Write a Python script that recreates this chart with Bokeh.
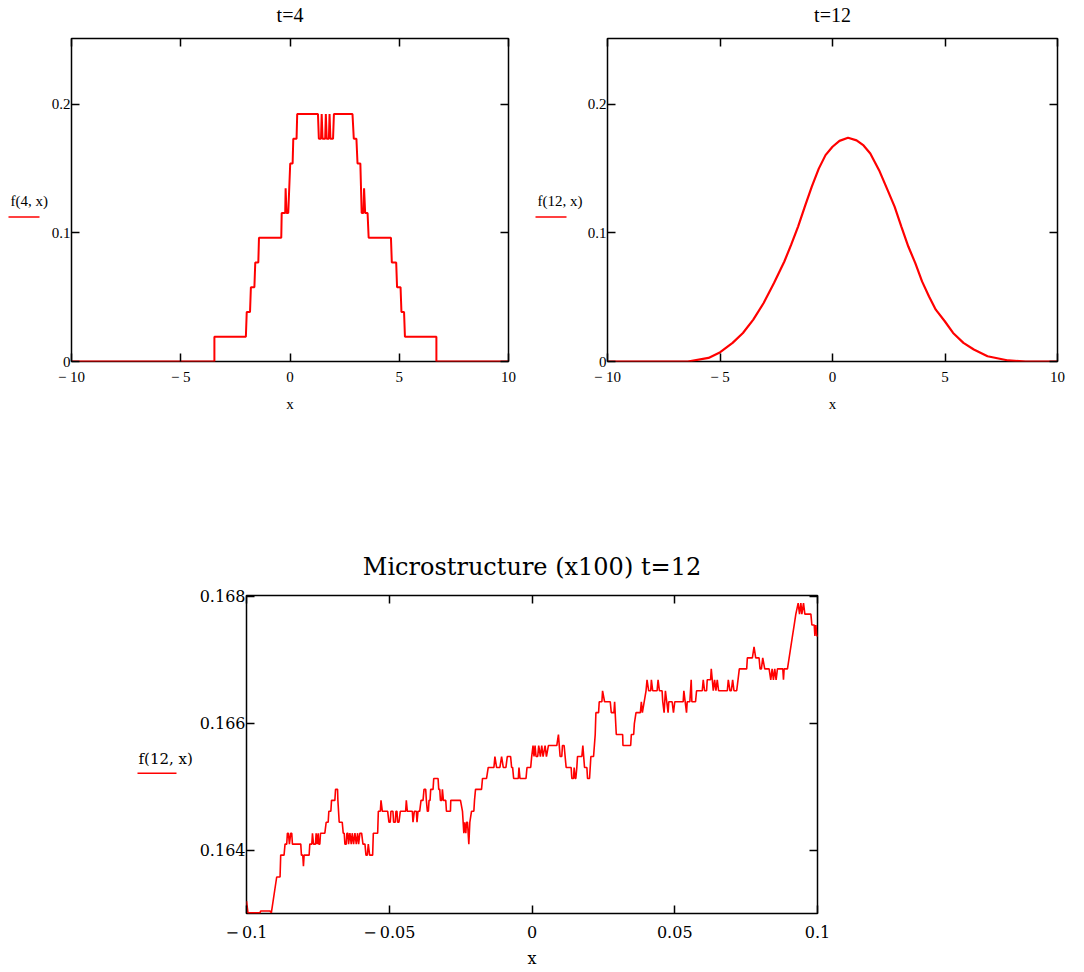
from bokeh.plotting import figure
from bokeh.models import Range1d, FixedTicker, LinearAxis, Label, Arrow
from bokeh.layouts import column, row
from bokeh.embed import file_html
from bokeh.resources import INLINE

SERIF = "Liberation Serif"
WIDE_SERIF = "DejaVu Serif"
RED = "#ff0000"

# ---------------- data: f(4, x) ----------------
x4 = [-10, -3.46, -3.46, -2.02, -1.98, -1.83, -1.79, -1.63, -1.59, -1.45, -1.42, -0.40, -0.38, -0.22,
      -0.20, -0.16, -0.08, 0.01, 0.12, 0.15, 0.30, 0.33, 1.28, 1.32, 1.42, 1.45, 1.49, 1.61, 1.64, 1.68,
      1.78, 1.81, 1.85, 1.97, 2.01, 2.86, 2.92, 3.04, 3.09, 3.22, 3.28, 3.36, 3.39, 3.44, 3.55, 3.60,
      4.62, 4.66, 4.86, 4.90, 5.06, 5.10, 5.22, 5.26, 6.70, 6.70, 10]
y4 = [0, 0, .01925, .01925, .0385, .0385, .05775, .05775, .077, .077, .09625, .09625, .1155, .1155,
      .13475, .1155, .1155, .154, .154, .17325, .17325, .1925, .1925, .17325, .17325, .1925, .17325,
      .17325, .1925, .17325, .17325, .1925, .17325, .17325, .1925, .1925, .17325, .17325, .154, .154,
      .1155, .1155, .13475, .1155, .1155, .09625, .09625, .077, .077, .05775, .05775, .0385, .0385,
      .01925, .01925, 0, 0]

# ---------------- data: f(12, x) ----------------
x12 = [-10, -6.43, -5.51, -4.99, -4.44, -3.98, -3.52, -3.06, -2.60, -2.14, -1.84, -1.53, -1.23, -0.92,
       -0.61, -0.31, 0.0, 0.31, 0.69, 1.07, 1.38, 1.68, 2.07, 2.45, 2.76, 3.06, 3.37, 3.68, 3.98, 4.29,
       4.59, 4.99, 5.36, 5.82, 6.28, 6.89, 7.81, 8.58, 10]
y12 = [0, 0, .0028, .0072, .0145, .0222, .0326, .0455, .061, .0778, .0907, .1049, .1204, .136, .150,
       .1605, .167, .1716, .174, .172, .168, .1618, .1488, .1333, .1204, .1049, .0894, .0765, .0623,
       .0506, .0403, .0313, .0222, .0145, .0093, .0041, .0008, 0, 0]

# ---------------- data: microstructure f(12, x) near 0 ----------------
xm = [-0.10000, -0.09949, -0.09528, -0.09504, -0.09177, -0.09130, -0.08942, -0.08825, -0.08802, -0.08685,
      -0.08650, -0.08591, -0.08568, -0.08532, -0.08497, -0.08450, -0.08415, -0.08392, -0.08099, -0.08076,
      -0.08029, -0.08006, -0.07982, -0.07806, -0.07783, -0.07713, -0.07689, -0.07654, -0.07584, -0.07561,
      -0.07525, -0.07490, -0.07467, -0.07432, -0.07408, -0.07256, -0.07209, -0.07139, -0.07116, -0.07045,
      -0.07022, -0.06905, -0.06881, -0.06811, -0.06799, -0.06753, -0.06647, -0.06612, -0.06577, -0.06553,
      -0.06507, -0.06483, -0.06448, -0.06425, -0.06378, -0.06331, -0.06296, -0.06249, -0.06202, -0.06155,
      -0.06108, -0.06073, -0.06027, -0.05968, -0.05921, -0.05851, -0.05816, -0.05769, -0.05734, -0.05687,
      -0.05582, -0.05558, -0.05406, -0.05382, -0.05312, -0.05289, -0.05242, -0.05055,
      -0.05011, -0.04965, -0.04941, -0.04871, -0.04847, -0.04789, -0.04765, -0.04730, -0.04707, -0.04660,
      -0.04613, -0.04426, -0.04402, -0.04367, -0.04192, -0.04168, -0.04121, -0.04051, -0.04028, -0.03993,
      -0.03934, -0.03887, -0.03817, -0.03782, -0.03723, -0.03700, -0.03665, -0.03630, -0.03606, -0.03571,
      -0.03548, -0.03466, -0.03442, -0.03290, -0.03267, -0.03231, -0.03208, -0.03161, -0.03138, -0.03103,
      -0.03021, -0.02997, -0.02857, -0.02845, -0.02505, -0.02435, -0.02388, -0.02365, -0.02318, -0.02295,
      -0.02259, -0.02213, -0.02177, -0.02119, -0.02037, -0.02014, -0.01978, -0.01768, -0.01733, -0.01592,
      -0.01533, -0.01334, -0.01299, -0.01241, -0.01124, -0.01065, -0.01006, -0.00913, -0.00866, -0.00749,
      -0.00714, -0.00679, -0.00643, -0.00480, -0.00456, -0.00421, -0.00210, -0.00175, -0.00046, -0.00011,
      0.00036, 0.00071,
      0.00107, 0.00142, 0.00200, 0.00235, 0.00294, 0.00341, 0.00388, 0.00458, 0.00505, 0.00575,
      0.00868, 0.00926, 0.00985, 0.01043, 0.01067, 0.01125, 0.01196, 0.01371, 0.01395, 0.01453,
      0.01477, 0.01512, 0.01535, 0.01570, 0.01594, 0.01746, 0.01781, 0.01840, 0.01922, 0.01945,
      0.02015, 0.02039, 0.02062, 0.02156, 0.02214, 0.02238, 0.02332, 0.02355, 0.02448, 0.02472,
      0.02542, 0.02741, 0.02777, 0.02870, 0.02894, 0.02952, 0.03175, 0.03186, 0.03456, 0.03479,
      0.03561, 0.03585, 0.03643, 0.03795, 0.03830, 0.03866, 0.03994, 0.04029, 0.04088, 0.04158,
      0.04182, 0.04228, 0.04381, 0.04416, 0.04463, 0.04556, 0.04580, 0.04627, 0.04673, 0.04720,
      0.04767, 0.04791, 0.04908, 0.04955, 0.05001,
      0.05201, 0.05295, 0.05319, 0.05365, 0.05412, 0.05436, 0.05529, 0.05576, 0.05600, 0.05728,
      0.05764, 0.05963, 0.05998, 0.06045, 0.06115, 0.06138, 0.06255, 0.06279, 0.06314, 0.06349,
      0.06396, 0.06443, 0.06489, 0.06536, 0.06841, 0.06876, 0.06935, 0.06981, 0.07028, 0.07075,
      0.07169, 0.07216, 0.07262, 0.07520, 0.07543, 0.07719, 0.07777, 0.07836, 0.07953, 0.07988,
      0.08035, 0.08082, 0.08152, 0.08305, 0.08363, 0.08410, 0.08457, 0.08503, 0.08550, 0.08597,
      0.08785, 0.08808, 0.08831, 0.08948, 0.09124, 0.09183, 0.09241, 0.09323, 0.09370, 0.09417,
      0.09452, 0.09510, 0.09557, 0.09768, 0.09803, 0.09885, 0.09909, 0.09944, 0.09979, 0.10026]
ym = [0.163195, 0.16301, 0.16301, 0.16304, 0.16304, 0.16301, 0.163575, 0.163575, 0.16392, 0.16392,
      0.164093, 0.164093, 0.164265, 0.164265, 0.164093, 0.164265, 0.164265, 0.164093, 0.164093, 0.16392,
      0.16392, 0.163747, 0.16392, 0.16392, 0.164093, 0.164093, 0.164265, 0.164093, 0.164093, 0.164265,
      0.164093, 0.164265, 0.164093, 0.164093, 0.164265, 0.164265, 0.164438, 0.164438, 0.16461, 0.16461,
      0.164783, 0.164783, 0.164956, 0.164956, 0.164783, 0.164438, 0.164438, 0.164265, 0.164265, 0.164093,
      0.164093, 0.164265, 0.164265, 0.164093, 0.164265, 0.164093, 0.164265, 0.164093, 0.164265, 0.164093,
      0.164265, 0.164093, 0.164265, 0.164265, 0.164093, 0.164093, 0.16392, 0.16392, 0.164093, 0.16392,
      0.16392, 0.164265, 0.164265, 0.16461, 0.16461, 0.164783, 0.16461, 0.16461,
      0.164438, 0.164438, 0.16461, 0.16461, 0.164438, 0.164438, 0.16461, 0.16461, 0.164438, 0.164438,
      0.16461, 0.16461, 0.164783, 0.16461, 0.16461, 0.164438, 0.16461, 0.16461, 0.164438, 0.16461,
      0.16461, 0.164783, 0.164783, 0.164956, 0.164956, 0.164783, 0.16461, 0.16461, 0.164783, 0.164783,
      0.164956, 0.164956, 0.165128, 0.165128, 0.164956, 0.164956, 0.164783, 0.164783, 0.164956, 0.164783,
      0.164783, 0.16461, 0.16461, 0.164783, 0.164783, 0.16461, 0.164265, 0.164438, 0.164265, 0.164438,
      0.164438, 0.164093, 0.164438, 0.16461, 0.16461, 0.164783, 0.164956, 0.164956, 0.165128, 0.165128,
      0.165301, 0.165301, 0.165473, 0.165301, 0.165301, 0.165473, 0.165301, 0.165301, 0.165473, 0.165473,
      0.165301, 0.165301, 0.165128, 0.165128, 0.165301, 0.165128, 0.165128, 0.165301, 0.165301, 0.165473,
      0.165646, 0.165473,
      0.165646, 0.165473, 0.165473, 0.165646, 0.165473, 0.165646, 0.165473, 0.165646, 0.165473, 0.165646,
      0.165646, 0.165819, 0.165473, 0.165473, 0.165646, 0.165646, 0.165301, 0.165301, 0.165128, 0.165128,
      0.165301, 0.165128, 0.165128, 0.165301, 0.165473, 0.165473, 0.165646, 0.165301, 0.165301, 0.165128,
      0.165128, 0.165301, 0.165473, 0.165473, 0.165819, 0.166164, 0.166164, 0.166336, 0.166336, 0.166509,
      0.166336, 0.166336, 0.166164, 0.166164, 0.166336, 0.165819, 0.165819, 0.165646, 0.165646, 0.165819,
      0.165819, 0.165991, 0.166164, 0.166164, 0.166336, 0.166164, 0.166509, 0.166682, 0.166509, 0.166509,
      0.166682, 0.166509, 0.166509, 0.166682, 0.166509, 0.166509, 0.166336, 0.166164, 0.166509, 0.166336,
      0.166164, 0.166336, 0.166336, 0.166164, 0.166336,
      0.166336, 0.166336, 0.166509, 0.166336, 0.166164, 0.166336, 0.166336, 0.166682, 0.166336, 0.166336,
      0.166509, 0.166509, 0.166682, 0.166509, 0.166509, 0.166682, 0.166682, 0.166854, 0.166682, 0.166509,
      0.166682, 0.166509, 0.166682, 0.166509, 0.166509, 0.166682, 0.166509, 0.166509, 0.166682, 0.166509,
      0.166509, 0.166682, 0.166854, 0.166854, 0.167027, 0.167027, 0.167199, 0.167027, 0.167027, 0.166854,
      0.166854, 0.167027, 0.166854, 0.166854, 0.166682, 0.166854, 0.166682, 0.166854, 0.166682, 0.166854,
      0.166854, 0.166682, 0.166854, 0.166854, 0.167372, 0.167545, 0.167717, 0.16789, 0.167717, 0.16789,
      0.167717, 0.16789, 0.167717, 0.167717, 0.167545, 0.167545, 0.167372, 0.167545, 0.167372, 0.167372]

# ---------------- ticks ----------------
xt_top = [-10, -5, 0, 5, 10]
xt_top_labels = ["\u2212 10", "\u2212 5", "0", "5", "10"]
yt_top = [0, 0.1, 0.2]
yt_top_labels = ["0", "0.1", "0.2"]
xt_bot = [-0.1, -0.05, 0, 0.05, 0.1]
xt_bot_labels = ["\u2212\u20090.1", "\u2212\u20090.05", "0", "0.05", "0.1"]
yt_bot = [0.164, 0.166, 0.168]
yt_bot_labels = ["0.164", "0.166", "0.168"]

TOP_YR = (0, 0.2512)
BOT_YR = (0.16300, 0.16801)


def style(ax, ticks, labels, font, fs, show):
    ax.ticker = FixedTicker(ticks=ticks)
    ax.axis_line_color = None
    ax.major_tick_in = 8
    ax.major_tick_out = 0
    ax.major_tick_line_color = "black"
    ax.major_tick_line_width = 1.5
    ax.minor_tick_line_color = None
    ax.major_label_text_font = font
    ax.major_label_text_font_size = f"{fs}px"
    ax.major_label_text_color = "black"
    ax.axis_label_text_font = font
    ax.axis_label_text_font_style = "normal"
    ax.axis_label_text_color = "black"
    if show:
        ax.major_label_overrides = {t: l for t, l in zip(ticks, labels)}
    else:
        ax.major_label_overrides = {t: "" for t in ticks}


def make(width, height, xr, yr, bl, br, bt, bb, xt, xtl, yt, ytl, font, fs, title, tfs,
         tick_stand, xlab_stand, title_stand):
    p = figure(width=width, height=height, x_range=Range1d(*xr), y_range=Range1d(*yr),
               min_border_left=bl, min_border_right=br, min_border_top=bt, min_border_bottom=bb,
               output_backend="svg", toolbar_location=None)
    p.xgrid.visible = False
    p.ygrid.visible = False
    p.outline_line_color = "black"
    p.outline_line_width = 1.5
    p.outline_line_alpha = 1.0

    style(p.xaxis[0], xt, xtl, font, fs, True)
    p.xaxis[0].major_label_standoff = tick_stand
    p.xaxis[0].axis_label = "x"
    p.xaxis[0].axis_label_text_font_size = f"{fs}px"
    p.xaxis[0].axis_label_standoff = xlab_stand
    style(p.yaxis[0], yt, ytl, font, fs, True)
    p.yaxis[0].major_label_standoff = 1

    top = LinearAxis()
    style(top, xt, xtl, font, fs, False)
    top.major_label_standoff = 0
    top.axis_label = title
    top.axis_label_text_font_size = f"{tfs}px"
    top.axis_label_standoff = title_stand
    p.add_layout(top, "above")

    right = LinearAxis()
    style(right, yt, ytl, font, fs, False)
    p.add_layout(right, "right")
    return p


def label_fig(width, height, yr, text, font, fs, tx, ty, ux0, ux1, uy):
    # narrow companion figure; its frame is aligned with the neighbouring plot's frame,
    # so it shares that plot's y range
    f = figure(width=width, height=height, x_range=Range1d(0, width), y_range=Range1d(*yr),
               min_border=0, x_axis_type=None, y_axis_type=None,
               output_backend="svg", toolbar_location=None)
    f.xgrid.visible = False
    f.ygrid.visible = False
    f.outline_line_color = None
    f.add_layout(Label(x=tx, y=ty, text=text, text_font=font, text_font_size=f"{fs}px",
                       text_align="left", text_baseline="middle", text_color="black"))
    f.add_layout(Arrow(end=None, x_start=ux0, x_end=ux1, y_start=uy, y_end=uy,
                       line_color=RED, line_width=1.5))
    return f


TOP_H = 414
lab1 = label_fig(48, TOP_H, TOP_YR, "f(4, x)", SERIF, 15, 10, 0.1245, 8, 39, 0.1124)
p1 = make(486, TOP_H, (-10, 10), TOP_YR, 21, 26, 38, 52, xt_top, xt_top_labels, yt_top, yt_top_labels,
          SERIF, 15, "t=4", 20, 7, 8, 13)
p1.line(x4, y4, line_color=RED, line_width=2)

lab2 = label_fig(50, TOP_H, TOP_YR, "f(12, x)", SERIF, 15, 3, 0.1245, 1, 32, 0.1124)
p2 = make(496, TOP_H, (-10, 10), TOP_YR, 21, 23, 38, 52, xt_top, xt_top_labels, yt_top, yt_top_labels,
          SERIF, 15, "t=12", 20, 7, 8, 13)
p2.line(x12, y12, line_color=RED, line_width=2.2)

BOT_H = 556
lab3 = label_fig(196, BOT_H, BOT_YR, "f(12, x)", WIDE_SERIF, 15, 138, 0.16544, 137, 176, 0.16521)
p3 = make(884, BOT_H, (-0.1, 0.1), BOT_YR, 50, 263, 181, 52, xt_bot, xt_bot_labels, yt_bot,
          yt_bot_labels, WIDE_SERIF, 16, "Microstructure (x100) t=12", 24, 9, 4, 15)
p3.line(xm, ym, line_color=RED, line_width=1.6)

layout = column(row(lab1, p1, lab2, p2), row(lab3, p3))
open("out.html", "w").write(file_html(layout, INLINE))
